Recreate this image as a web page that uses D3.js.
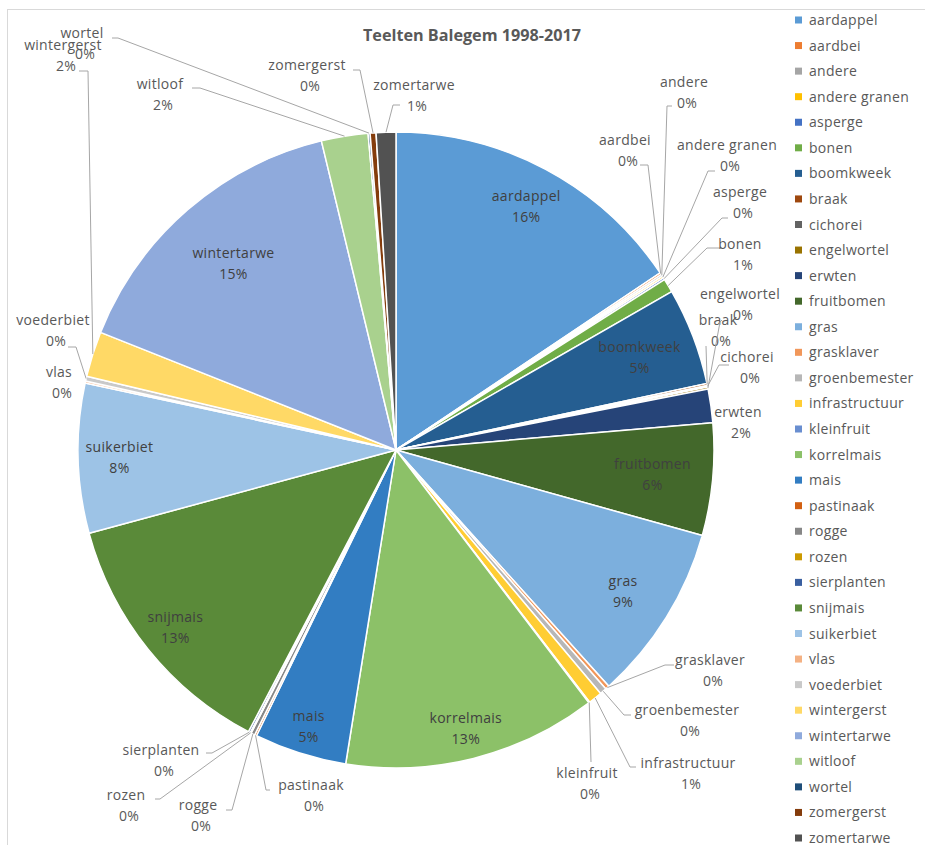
<!DOCTYPE html>
<html>
<head>
<meta charset="utf-8">
<script src="https://cdn.jsdelivr.net/npm/d3@7"></script>
<style>
  html, body { margin: 0; padding: 0; background: #fff; }
  svg { display: block; font-family: "Open Sans", "Noto Sans", sans-serif; }
</style>
</head>
<body>
<svg id="chart" width="925" height="845"></svg>
<script>
// Crop areas in Balegem, 1998-2017 (share per crop)
const crops = [
  "aardappel", "aardbei", "andere", "andere granen", "asperge", "bonen",
  "boomkweek", "braak", "cichorei", "engelwortel", "erwten", "fruitbomen",
  "gras", "grasklaver", "groenbemester", "infrastructuur", "kleinfruit",
  "korrelmais", "mais", "pastinaak", "rogge", "rozen", "sierplanten",
  "snijmais", "suikerbiet", "vlas", "voederbiet", "wintergerst",
  "wintertarwe", "witloof", "wortel", "zomergerst", "zomertarwe"
];
const shares = [
  15.6, 0.1, 0.1, 0.1, 0.1, 0.7,
  4.95, 0.1, 0.08, 0.1, 1.7, 5.7,
  9.0, 0.2, 0.35, 0.7, 0.05,
  12.9, 4.7, 0.1, 0.2, 0.05, 0.1,
  13.1, 7.6, 0.1, 0.25, 2.3,
  15.2, 2.37, 0.1, 0.3, 1.0
];
const colors = [
  "#5B9BD5", "#ED7D31", "#A5A5A5", "#FFC000", "#4472C4", "#70AD47",
  "#255E91", "#9E480E", "#636363", "#997300", "#264478", "#43682B",
  "#7CAFDD", "#F1975A", "#B7B7B7", "#FFCD33", "#698ED0",
  "#8CC168", "#327DC2", "#D26012", "#878787", "#CC9A00", "#3A5FA0",
  "#5A8A39", "#9DC3E6", "#F4B183", "#C9C9C9", "#FFD966",
  "#8FAADC", "#A9D18E", "#1F4E79", "#843C0C", "#525252"
];
const title = "Teelten Balegem 1998-2017";

// Crops labelled inside their slice, with the label's distance from the centre (fraction of radius)
const insideLabels = {
  "aardappel": 0.87, "boomkweek": 0.82, "fruitbomen": 0.81, "gras": 0.84,
  "korrelmais": 0.90, "mais": 0.91, "snijmais": 0.89, "suikerbiet": 0.87,
  "wintertarwe": 0.78
};

// Callout placement for the small slices: label centre, line start, elbow
const callouts = {
  "aardbei":        { l: [625, 140], a: [640, 165], e: [648, 165] },
  "andere":         { l: [684, 82],  a: [672, 106], e: [667, 106] },
  "andere granen":  { l: [727, 145], a: [715, 171], e: [708, 171] },
  "asperge":        { l: [740, 192], a: [728, 218], e: [722, 218] },
  "bonen":          { l: [740, 244], a: [722, 248], e: [707, 248] },
  "braak":          { l: [718, 320], a: [706, 346], e: [706, 346] },
  "cichorei":       { l: [747, 357], a: [729, 365], e: [719, 365] },
  "engelwortel":    { l: [740, 294], a: [722, 320], e: [720, 322] },
  "erwten":         { l: [738, 412], a: null },
  "grasklaver":     { l: [710, 660], a: [674, 665], e: [665, 665] },
  "groenbemester":  { l: [687, 710], a: [631, 715], e: [624, 715] },
  "infrastructuur": { l: [688, 763], a: [636, 767], e: [630, 767] },
  "kleinfruit":     { l: [587, 773], a: [591, 762], e: [591, 762] },
  "pastinaak":      { l: [311, 785], a: [270, 790], e: [266, 790] },
  "rogge":          { l: [198, 805], a: [226, 810], e: [232, 810] },
  "rozen":          { l: [126, 795], a: [155, 799], e: [160, 799] },
  "sierplanten":    { l: [161, 750], a: [206, 753], e: [212, 753] },
  "vlas":           { l: [59, 372],  a: null },
  "voederbiet":     { l: [53, 320],  a: [68, 347], e: [76, 347] },
  "wintergerst":    { l: [63, 45],   a: [79, 71], e: [88, 71] },
  "witloof":        { l: [160, 84],  a: [192, 88], e: [200, 88] },
  "wortel":         { l: [82, 33],   a: [112, 38], e: [118, 38] },
  "zomergerst":     { l: [307, 65],  a: [353, 70], e: [360, 70] },
  "zomertarwe":     { l: [414, 85],  a: [400, 105], e: [393, 105] }
};

const svg = d3.select("#chart");
const cx = 396, cy = 450, R = 318;
const total = d3.sum(shares);
const pctFmt = v => Math.round(v / total * 100) + "%";
const fontSize = 14, spacing = 0.3;

// chart frame
svg.append("rect").attr("x", 7.5).attr("y", 9.5).attr("width", 940).attr("height", 860)
  .attr("fill", "none").attr("stroke", "#D9D9D9");

svg.append("text").attr("x", 472).attr("y", 41).attr("text-anchor", "middle")
  .attr("font-size", 16.2).attr("font-weight", "bold").attr("fill", "#595959").text(title);

const color = d3.scaleOrdinal().domain(crops).range(colors);
const data = crops.map((c, i) => ({ crop: c, value: shares[i] }));
const pie = d3.pie().sort(null).value(d => d.value).startAngle(0).endAngle(2 * Math.PI);
const arcs = pie(data);
const arc = d3.arc().innerRadius(0).outerRadius(R);

const g = svg.append("g").attr("transform", `translate(${cx},${cy})`);
g.selectAll("path").data(arcs).join("path")
  .attr("d", arc)
  .attr("fill", d => color(d.data.crop))
  .attr("stroke", "#fff").attr("stroke-width", 1.5).attr("stroke-linejoin", "round");

// point at distance r from the centre, on the slice's middle angle
const rimPoint = (d, r) => {
  const a = (d.startAngle + d.endAngle) / 2;
  return [cx + r * Math.sin(a), cy - r * Math.cos(a)];
};

const labels = svg.append("g").attr("font-size", fontSize).attr("letter-spacing", spacing);

arcs.forEach(d => {
  const name = d.data.crop;
  const pct = pctFmt(d.data.value);
  if (name in insideLabels) {
    const [x, y] = rimPoint(d, R * insideLabels[name]);
    const t = labels.append("text").attr("text-anchor", "middle").attr("fill", "#404040");
    t.append("tspan").attr("x", x).attr("y", y - 5).text(name);
    t.append("tspan").attr("x", x).attr("y", y + 16).text(pct);
    return;
  }
  const c = callouts[name];
  if (!c) return;
  if (c.a) {
    const p = rimPoint(d, R);
    labels.append("polyline")
      .attr("points", [c.a, c.e, p].map(q => q.join(",")).join(" "))
      .attr("fill", "none").attr("stroke", "#A6A6A6").attr("stroke-width", 1);
  }
  const t = labels.append("text").attr("text-anchor", "middle").attr("fill", "#595959");
  t.append("tspan").attr("x", c.l[0]).attr("y", c.l[1] + 5).text(name);
  t.append("tspan").attr("x", c.l[0] + 3).attr("y", c.l[1] + 26).text(pct);
});

// legend
const legendY = d3.scalePoint().domain(crops).range([20, 838]);
const legend = svg.append("g").attr("font-size", fontSize).attr("letter-spacing", spacing)
  .attr("fill", "#595959");
crops.forEach(c => {
  const y = legendY(c);
  legend.append("rect").attr("x", 795).attr("y", y - 3.5).attr("width", 7).attr("height", 7)
    .attr("fill", color(c));
  legend.append("text").attr("x", 809).attr("y", y + 5).text(c);
});
</script>
</body>
</html>
